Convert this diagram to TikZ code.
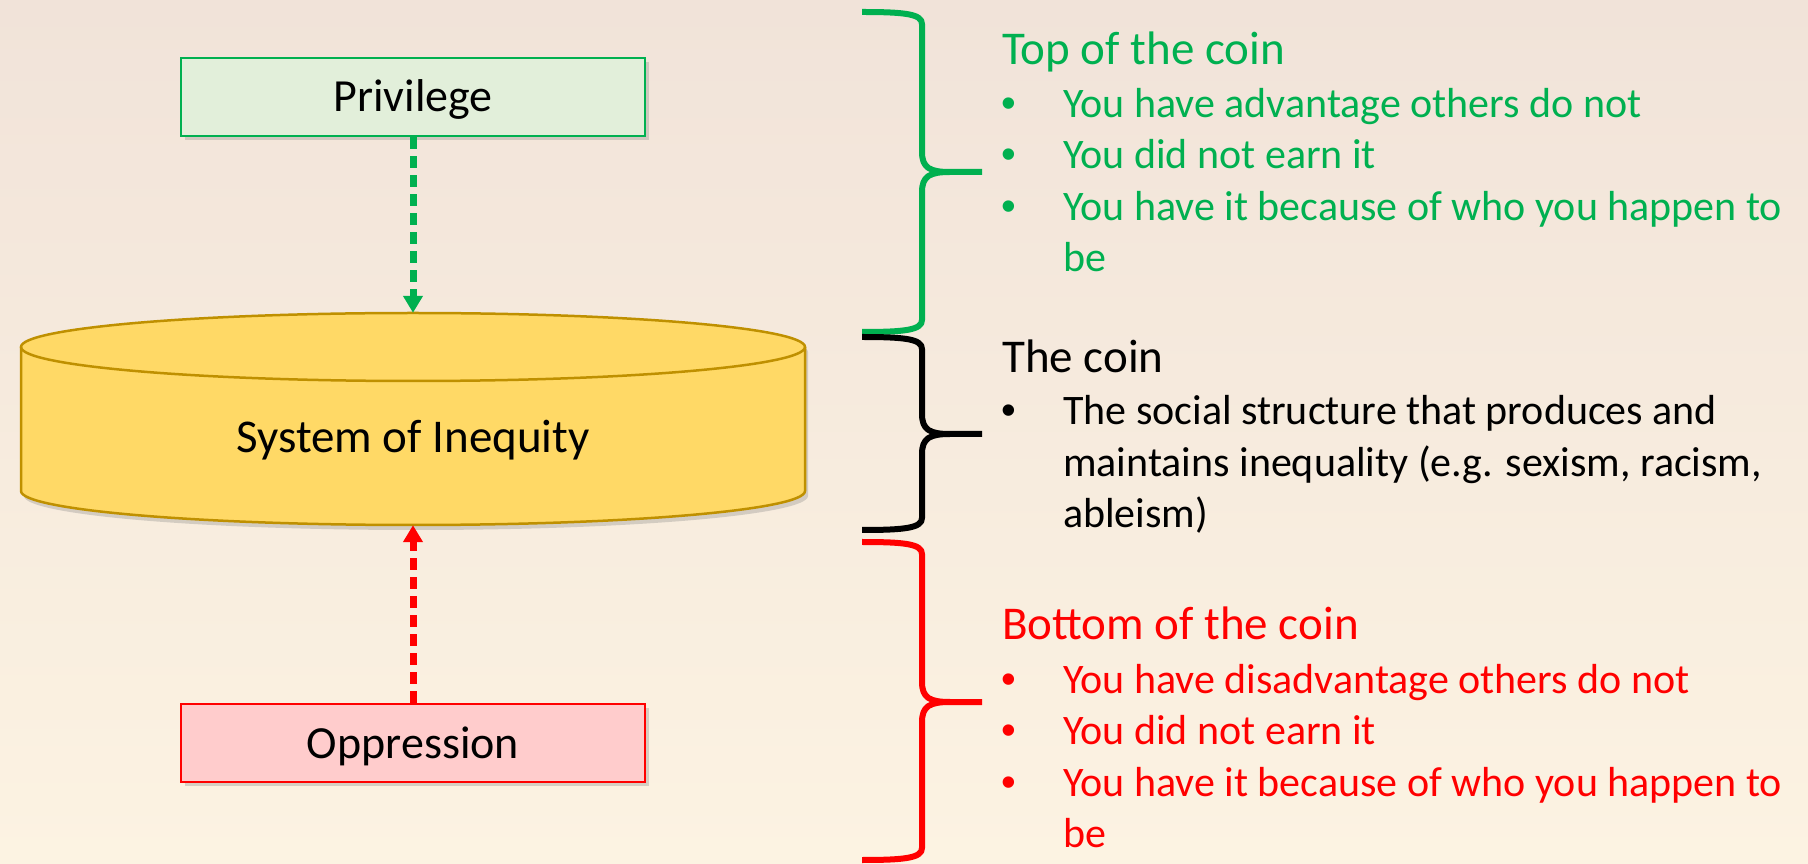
\documentclass[tikz,border=0pt]{standalone}
\usepackage{fontspec}
\setmainfont{Carlito}
\newfontfamily\bulletfont{Liberation Sans}
\usetikzlibrary{arrows.meta,shadows}
\definecolor{pgreen}{HTML}{00B050}
\definecolor{pred}{HTML}{FF0000}
\definecolor{prvfill}{HTML}{E2EFDA}
\definecolor{oppfill}{HTML}{FFCCCC}
\definecolor{cylfill}{HTML}{FFD966}
\definecolor{cyldraw}{HTML}{BF9000}
\definecolor{bgtop}{HTML}{F1E3D9}
\definecolor{bgbot}{HTML}{FCF3E2}
\begin{document}
\begin{tikzpicture}[x=1pt,y=1pt,
  boxsty/.style={draw, line width=2.5pt, minimum width=464pt, minimum height=78pt,
    inner sep=0pt, text height=30pt, text depth=0pt,
    font=\fontsize{46}{55}\selectfont,
    drop shadow={shadow xshift=4pt,shadow yshift=-4pt,opacity=0.3}},
  conn/.style={line width=7pt, dash pattern=on 12pt off 7pt,
    -{Triangle[width=19pt,length=17pt]}},
  headsty/.style={anchor=base west, inner sep=0pt, font=\fontsize{47}{56}\selectfont},
  linesty/.style={anchor=base west, inner sep=0pt, font=\fontsize{42}{51}\selectfont},
  bulsty/.style={anchor=base, inner sep=0pt, font=\bulletfont\fontsize{42}{51}\selectfont},
  bracesty/.style={line width=6pt, line join=round, line cap=butt}
]
\useasboundingbox (0,0) rectangle (1808,863);
\fill[top color=bgtop, bottom color=bgbot] (0,0) rectangle (1808,863);

% cylinder (System of Inequity)
\path[fill=cylfill, drop shadow={shadow xshift=3pt,shadow yshift=-5pt,opacity=0.3}]
  (21,516) -- (21,372) arc[start angle=180, end angle=360, x radius=392, y radius=34]
  -- (805,516) arc[start angle=0, end angle=180, x radius=392, y radius=34] -- cycle;
\draw[cyldraw, line width=2.5pt, line join=round]
  (21,516) -- (21,372) arc[start angle=180, end angle=360, x radius=392, y radius=34]
  -- (805,516);
\draw[cyldraw, line width=2.5pt] (413,516) ellipse[x radius=392, y radius=34];
\node[minimum width=784pt, minimum height=212pt, inner sep=0pt] (sys) at (413,444) {};
\node[anchor=base, inner sep=0pt, font=\fontsize{47}{56}\selectfont] (systxt) at (413,410) {System of Inequity};

% boxes
\node[boxsty, draw=pgreen, fill=prvfill] (prv) at (413,766) {Privilege};
\node[boxsty, draw=pred, fill=oppfill] (opp) at (413,120) {Oppression};

% connectors
\draw[conn, pgreen] (prv.south) -- (sys.north);
\draw[conn, pred] (opp.north) -- (sys.south);

% braces
\draw[bracesty, pgreen] (862,851) .. controls (905,851) and (922,849) .. (922,839)
  -- (922,711) .. controls (922,695) and (930,691) .. (950,691) -- (982,691)
  (950,691) .. controls (930,691) and (922,687) .. (922,671)
  -- (922,543) .. controls (922,533) and (905,531) .. (862,531);
\draw[bracesty, black] (862,526) .. controls (905,526) and (922,524) .. (922,514)
  -- (922,449) .. controls (922,433) and (930,429) .. (950,429) -- (982,429)
  (950,429) .. controls (930,429) and (922,425) .. (922,409)
  -- (922,345) .. controls (922,335) and (905,333) .. (862,333);
\draw[bracesty, pred] (862,321) .. controls (905,321) and (922,319) .. (922,309)
  -- (922,181) .. controls (922,165) and (930,161) .. (950,161) -- (982,161)
  (950,161) .. controls (930,161) and (922,157) .. (922,141)
  -- (922,15) .. controls (922,5) and (905,3) .. (862,3);

% green text
\node[headsty, text=pgreen] (gh) at (1002,798) {Top of the coin};
\node[bulsty, text=pgreen] (gb1) at (1009,745) {•};
\node[linesty, text=pgreen] (gl1) at (1063,745) {You have advantage others do not};
\node[bulsty, text=pgreen] (gb2) at (1009,694) {•};
\node[linesty, text=pgreen] (gl2) at (1063,694) {You did not earn it};
\node[bulsty, text=pgreen] (gb3) at (1009,642) {•};
\node[linesty, text=pgreen] (gl3) at (1063,642) {You have it because of who you happen to};
\node[linesty, text=pgreen] (gl4) at (1063,591) {be};

% black text
\node[headsty] (kh) at (1002,490) {The coin};
\node[bulsty] (kb1) at (1009,438) {•};
\node[linesty] (kl1) at (1063,438) {The social structure that produces and};
\node[linesty] (kl2) at (1063,386) {maintains inequality (e.g. sexism, racism,};
\node[linesty] (kl3) at (1063,335) {ableism)};

% red text
\node[headsty, text=pred] (rh) at (1002,223) {Bottom of the coin};
\node[bulsty, text=pred] (rb1) at (1009,170) {•};
\node[linesty, text=pred] (rl1) at (1063,170) {You have disadvantage others do not};
\node[bulsty, text=pred] (rb2) at (1009,119) {•};
\node[linesty, text=pred] (rl2) at (1063,119) {You did not earn it};
\node[bulsty, text=pred] (rb3) at (1009,67) {•};
\node[linesty, text=pred] (rl3) at (1063,67) {You have it because of who you happen to};
\node[linesty, text=pred] (rl4) at (1063,16) {be};
\end{tikzpicture}
\end{document}
